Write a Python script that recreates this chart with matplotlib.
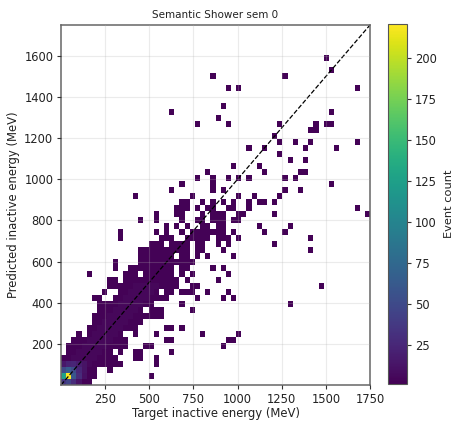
import numpy as np
import matplotlib
matplotlib.use("Agg")
import matplotlib.pyplot as plt

n_bins = 60
max_energy = 1750

# occupied bins of the 2d histogram: predicted bin -> target bin ranges
occupied = {
    0: [(0, 5)],
    1: [(0, 6), (17, 17)],
    2: [(0, 6), (9, 9)],
    3: [(0, 11), (18, 18)],
    4: [(0, 10), (14, 15), (18, 18)],
    5: [(1, 9), (11, 11), (14, 15), (21, 21)],
    6: [(1, 12), (16, 17), (31, 31)],
    7: [(2, 12), (20, 21), (32, 33)],
    8: [(3, 3), (5, 11), (14, 14), (18, 18), (27, 27), (34, 34)],
    9: [(5, 14), (20, 21), (23, 23)],
    10: [(6, 15)],
    11: [(6, 19)],
    12: [(7, 15), (17, 19), (25, 25)],
    13: [(7, 17), (23, 23), (44, 44)],
    14: [(6, 7), (10, 20), (26, 26), (31, 31), (33, 33)],
    15: [(8, 8), (11, 18), (20, 21), (23, 25), (28, 28), (32, 32)],
    16: [(9, 22), (25, 26), (50, 50)],
    17: [(9, 10), (12, 22), (24, 24), (30, 30)],
    18: [(5, 5), (12, 14), (16, 21), (23, 23), (25, 25), (32, 32)],
    19: [(10, 10), (13, 21), (23, 24), (29, 29), (31, 31)],
    20: [(10, 10), (15, 25)],
    21: [(15, 21), (23, 24), (26, 26), (28, 28), (33, 33)],
    22: [(15, 24), (26, 27), (31, 31), (48, 48)],
    23: [(17, 19), (21, 24), (26, 27), (30, 30), (32, 32), (41, 41)],
    24: [(11, 11), (19, 21), (24, 28), (30, 32), (34, 34), (48, 48)],
    25: [(11, 11), (18, 18), (20, 20), (23, 23), (25, 31), (33, 33), (39, 39), (43, 43)],
    26: [(20, 20), (22, 22), (24, 24), (27, 28), (30, 31), (38, 38), (44, 44)],
    27: [(15, 15), (18, 18), (23, 23), (26, 27), (29, 31), (33, 34)],
    28: [(18, 18), (22, 23), (27, 27), (29, 31), (34, 35), (41, 41), (59, 59)],
    29: [(22, 24), (26, 26), (28, 29), (32, 33), (36, 36), (57, 57)],
    30: [(23, 24), (27, 27), (29, 29), (31, 31), (33, 33), (36, 36), (38, 39), (41, 41)],
    31: [(14, 14), (25, 25), (34, 34), (37, 37), (42, 42)],
    32: [(21, 21), (29, 29), (31, 31), (43, 43), (46, 46)],
    33: [(23, 23), (29, 29), (52, 52)],
    34: [(26, 26), (29, 29), (32, 32), (34, 34), (36, 36), (43, 43), (45, 45)],
    35: [(28, 28), (39, 39), (46, 47)],
    36: [(33, 33), (38, 38)],
    37: [(44, 44), (47, 47)],
    38: [(42, 42)],
    39: [(36, 36), (39, 39), (47, 47), (53, 53)],
    40: [(42, 42), (45, 45), (48, 48), (57, 57)],
    41: [(41, 41)],
    42: [(48, 49)],
    43: [(26, 26), (32, 32), (42, 42), (49, 49), (51, 52)],
    44: [(30, 30)],
    45: [(21, 21), (52, 52)],
    46: [(31, 31)],
    49: [(32, 32), (34, 34), (57, 57)],
    51: [(29, 29), (43, 43)],
    52: [(52, 52)],
    54: [(51, 51)],
}

# busier part of the band along the diagonal: predicted bin -> target bin range
band = {
    3: (1, 5), 4: (2, 6), 5: (3, 7), 6: (4, 8), 7: (5, 9), 8: (6, 10),
    9: (7, 11), 10: (8, 12), 11: (9, 13), 12: (10, 14), 13: (11, 15),
    14: (12, 16), 15: (13, 17), 16: (14, 18),
}
band_events = 5

# brighter bins near the origin: (target bin, predicted bin, events)
hot_bins = [
    (0, 0, 35), (1, 0, 45), (2, 0, 28), (3, 0, 12),
    (0, 1, 125), (1, 1, 220), (2, 1, 60), (3, 1, 28), (4, 1, 10),
    (0, 2, 50), (1, 2, 65), (2, 2, 50), (3, 2, 25), (4, 2, 12),
    (0, 3, 15), (1, 3, 22), (2, 3, 24), (3, 3, 18), (4, 3, 12),
]

x_ticks = [250, 500, 750, 1000, 1250, 1500, 1750]
y_ticks = [200, 400, 600, 800, 1000, 1200, 1400, 1600]
cbar_ticks = [25, 50, 75, 100, 125, 150, 175, 200]

counts = np.zeros((n_bins, n_bins))
for row, spans in occupied.items():
    for start, end in spans:
        counts[row, start:end + 1] = 2
for row, (start, end) in band.items():
    counts[row, start:end + 1] = band_events
for col, row, val in hot_bins:
    counts[row, col] = val
counts[counts == 0] = np.nan

edges = np.linspace(0, max_energy, n_bins + 1)

fig = plt.figure(figsize=(4.57, 4.22), dpi=100)
ax = fig.add_axes([61 / 457, 1 - 385 / 422, 309 / 457, 360 / 422])
cax = fig.add_axes([388 / 457, 1 - 384 / 422, 19 / 457, 360 / 422])

mesh = ax.pcolormesh(edges, edges, counts, cmap="viridis", vmin=1, vmax=221)
ax.plot([0, max_energy], [0, max_energy], color="black", ls="--", lw=0.9)
ax.grid(True, alpha=0.25)
ax.set_axisbelow(False)
ax.set_xlim(0, max_energy)
ax.set_ylim(0, max_energy)
ax.set_xticks(x_ticks)
ax.set_yticks(y_ticks)
ax.tick_params(labelsize=8.3, length=3, pad=2.5, color="#333333", labelcolor="#222222")
ax.set_xlabel("Target inactive energy (MeV)", fontsize=8.35, labelpad=1, color="#222222")
ax.set_ylabel("Predicted inactive energy (MeV)", fontsize=8.35, labelpad=3, color="#222222")
ax.set_title("Semantic Shower sem 0", fontsize=7.5, pad=5, color="#222222")
for sp in ax.spines.values():
    sp.set_color("#666666")
    sp.set_linewidth(1.1)

cb = fig.colorbar(mesh, cax=cax)
cb.set_ticks(cbar_ticks)
cb.ax.tick_params(labelsize=8.3, length=3, pad=2.5, color="#333333", labelcolor="#222222")
cb.set_label("Event count", fontsize=8.2, labelpad=5, color="#222222")
cb.outline.set_edgecolor("#555555")

fig.savefig("out.png", dpi=100)
